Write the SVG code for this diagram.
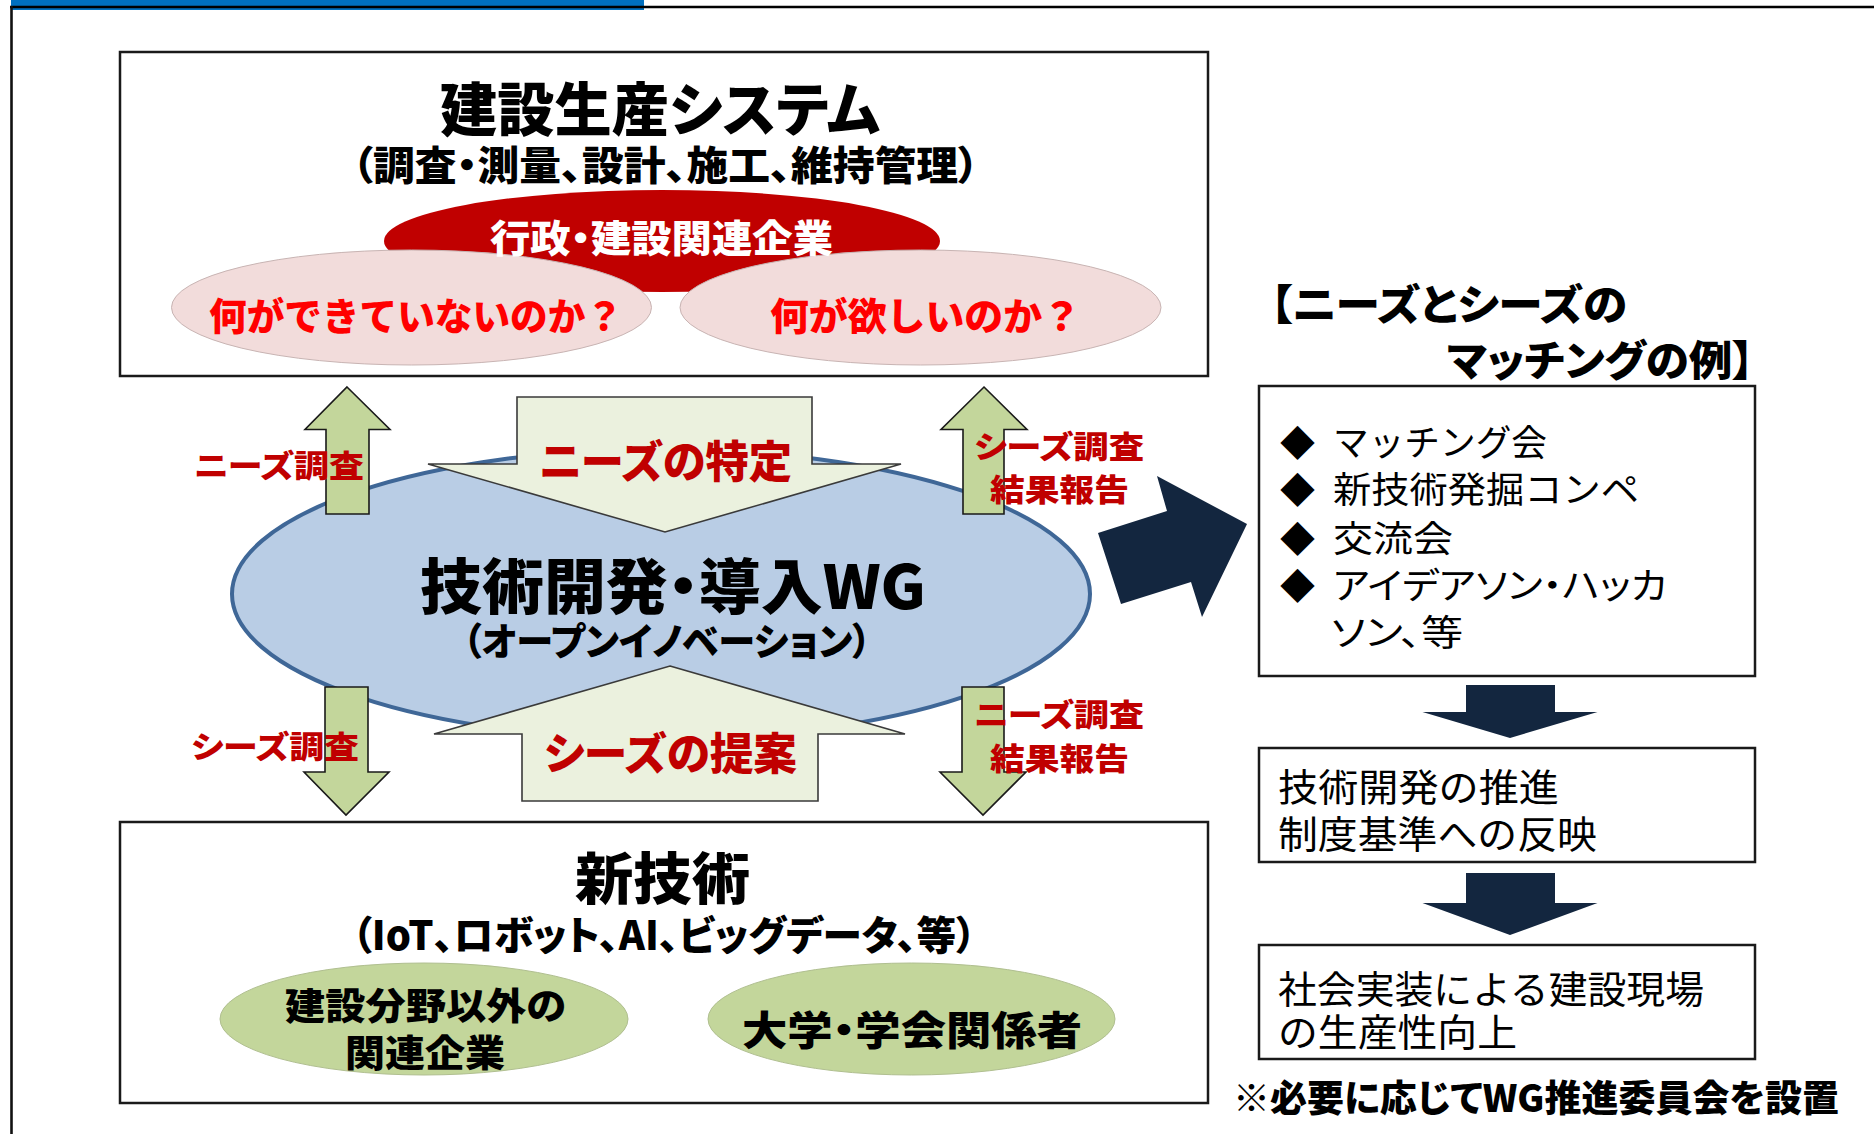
<svg xmlns="http://www.w3.org/2000/svg" width="1874" height="1134" viewBox="0 0 1874 1134">
<style>
text{font-family:"Noto Sans CJK JP","Noto Sans",sans-serif;}
.b{font-weight:900;fill:#000;font-feature-settings:"palt";}
.r{font-weight:400;fill:#000;}
.p{font-feature-settings:"palt";}
.red{font-weight:900;fill:#C00000;font-feature-settings:"palt";}
.rr{font-weight:900;fill:#FF0000;}
.wt{font-weight:900;fill:#fff;font-feature-settings:"palt";}
.box{fill:#fff;stroke:#1a1a1a;stroke-width:2.5;}
.gar{fill:#C3D69B;stroke:#1a1a1a;stroke-width:1.6;}
.bar{fill:#EBF1DE;stroke:#3a3a3a;stroke-width:1.6;}
.nav{fill:#13263F;}
</style>
<rect width="1874" height="1134" fill="#fff"/>
<g id="frame">
<rect x="11" y="0" width="633" height="10" fill="#0070C0"/>
<line x1="10" y1="7" x2="1874" y2="7" stroke="#000" stroke-width="2.6"/>
<line x1="11.5" y1="6" x2="11.5" y2="1134" stroke="#111" stroke-width="2.6"/>
</g>
<g id="top-box">
<rect class="box" x="120" y="52" width="1088" height="324"/>
<text class="b" x="440" y="131" font-size="58" textLength="440" lengthAdjust="spacingAndGlyphs">建設生産システム</text>
<text class="b" x="352" y="180" font-size="40" textLength="627" lengthAdjust="spacingAndGlyphs">（調査・測量、設計、施工、維持管理）</text>
<ellipse cx="662" cy="241" rx="278" ry="51" fill="#C00000"/>
<ellipse cx="411.5" cy="307.5" rx="240" ry="57.5" fill="#F2DCDB" stroke="#C8B4B3" stroke-width="1"/>
<ellipse cx="920.5" cy="307.5" rx="240.5" ry="57.5" fill="#F2DCDB" stroke="#C8B4B3" stroke-width="1"/>
<text class="wt" x="490" y="252" font-size="38" textLength="343" lengthAdjust="spacingAndGlyphs">行政・建設関連企業</text>
<text class="rr" x="209" y="330" font-size="38" textLength="414" lengthAdjust="spacingAndGlyphs">何ができていないのか？</text>
<text class="rr" x="770" y="330" font-size="38" textLength="311" lengthAdjust="spacingAndGlyphs">何が欲しいのか？</text>
</g>
<g id="wg">
<ellipse cx="661" cy="594" rx="429" ry="145" fill="#B9CDE5" stroke="#3F6797" stroke-width="4"/>
</g>
<g id="connectors">
<polygon class="bar" points="517,397 812,397 812,464 901,464 665,532 428,464 517,464"/>
<polygon class="bar" points="670,666 905,734 818,734 818,801 522,801 522,734 434,734"/>
<polygon class="gar" points="347,387 390,429.5 369,429.5 369,514 326,514 326,429.5 305,429.5"/>
<polygon class="gar" points="984,387 1027,429.5 1004,429.5 1004,514 963,514 963,429.5 941,429.5"/>
<polygon class="gar" points="325,687 368,687 368,772 389,772 346,815 304,772 325,772"/>
<polygon class="gar" points="962,687 1004,687 1004,772 1026,772 983,815 940,772 962,772"/>
<polygon class="nav" points="1098,533 1167,511 1157,476 1247,524 1202,617 1191,582 1121,604"/>
<polygon class="nav" points="1466,685 1555,685 1555,712 1597.5,712 1510,738 1422.5,712 1466,712"/>
<polygon class="nav" points="1466,873 1555,873 1555,903 1597.5,903 1510,935 1422.5,903 1466,903"/>
</g>
<g id="connector-labels">
<text class="red" x="539" y="478" font-size="44" textLength="253" lengthAdjust="spacingAndGlyphs">ニーズの特定</text>
<text class="red" x="544" y="770" font-size="44" textLength="253" lengthAdjust="spacingAndGlyphs">シーズの提案</text>
<text class="red" x="194" y="477" font-size="31" textLength="170" lengthAdjust="spacingAndGlyphs">ニーズ調査</text>
<text class="red" x="191" y="758" font-size="31" textLength="168" lengthAdjust="spacingAndGlyphs">シーズ調査</text>
<text class="red" x="974" y="458" font-size="31" textLength="170" lengthAdjust="spacingAndGlyphs">シーズ調査</text>
<text class="red" x="990" y="501" font-size="31" textLength="139" lengthAdjust="spacingAndGlyphs">結果報告</text>
<text class="red" x="974" y="726" font-size="31" textLength="170" lengthAdjust="spacingAndGlyphs">ニーズ調査</text>
<text class="red" x="990" y="770" font-size="31" textLength="139" lengthAdjust="spacingAndGlyphs">結果報告</text>
</g>
<g id="wg-text">
<text class="b" x="420" y="609" font-size="60" textLength="506" lengthAdjust="spacingAndGlyphs">技術開発・導入WG</text>
<text class="b" x="463" y="655" font-size="38" textLength="408" lengthAdjust="spacingAndGlyphs">（オープンイノベーション）</text>
</g>
<g id="bottom-box">
<rect class="box" x="120" y="822" width="1088" height="281"/>
<text class="b" x="575" y="899" font-size="56" textLength="175" lengthAdjust="spacingAndGlyphs">新技術</text>
<text class="b" x="352" y="950" font-size="40" textLength="624" lengthAdjust="spacingAndGlyphs">（IoT、ロボット、AI、ビッグデータ、等）</text>
<ellipse cx="424" cy="1019" rx="204" ry="56" fill="#C3D69B" stroke="#B0BF90" stroke-width="1"/>
<ellipse cx="911.5" cy="1019" rx="203.5" ry="56" fill="#C3D69B" stroke="#B0BF90" stroke-width="1"/>
<text class="b" x="285" y="1020" font-size="37" textLength="281" lengthAdjust="spacingAndGlyphs">建設分野以外の</text>
<text class="b" x="345" y="1067" font-size="37" textLength="160" lengthAdjust="spacingAndGlyphs">関連企業</text>
<text class="b" x="742" y="1045" font-size="40" textLength="340" lengthAdjust="spacingAndGlyphs">大学・学会関係者</text>
</g>
<g id="matching-heading">
<text class="b" x="1270" y="320" font-size="42" textLength="357" lengthAdjust="spacingAndGlyphs">【ニーズとシーズの</text>
<text class="b" x="1447" y="376" font-size="42" textLength="307" lengthAdjust="spacingAndGlyphs">マッチングの例】</text>
</g>
<g id="matching-box">
<rect class="box" x="1259" y="386" width="496" height="290" stroke-width="2"/>
<text class="r" x="1280" y="456" font-size="35">◆</text>
<text class="r" x="1280" y="503" font-size="35">◆</text>
<text class="r" x="1280" y="552" font-size="35">◆</text>
<text class="r" x="1280" y="599" font-size="35">◆</text>
<text class="r" x="1333" y="456" font-size="36" textLength="214" lengthAdjust="spacingAndGlyphs">マッチング会</text>
<text class="r" x="1333" y="503" font-size="36" textLength="306" lengthAdjust="spacingAndGlyphs">新技術発掘コンペ</text>
<text class="r" x="1333" y="552" font-size="36" textLength="120" lengthAdjust="spacingAndGlyphs">交流会</text>
<text class="r p" x="1333" y="599" font-size="36" textLength="334" lengthAdjust="spacingAndGlyphs">アイデアソン・ハッカ</text>
<text class="r p" x="1331" y="646" font-size="36" textLength="132" lengthAdjust="spacingAndGlyphs">ソン、等</text>
</g>
<g id="promotion-box">
<rect class="box" x="1259" y="748" width="496" height="114" stroke-width="2"/>
<text class="r" x="1278" y="801" font-size="38" textLength="281" lengthAdjust="spacingAndGlyphs">技術開発の推進</text>
<text class="r" x="1278" y="848" font-size="38" textLength="319" lengthAdjust="spacingAndGlyphs">制度基準への反映</text>
</g>
<g id="impl-box">
<rect class="box" x="1259" y="945" width="496" height="114" stroke-width="2"/>
<text class="r" x="1278" y="1003" font-size="38" textLength="426" lengthAdjust="spacingAndGlyphs">社会実装による建設現場</text>
<text class="r" x="1278" y="1046" font-size="38" textLength="239" lengthAdjust="spacingAndGlyphs">の生産性向上</text>
</g>
<g id="footnote">
<text class="b" x="1233" y="1112" font-size="37" textLength="606" lengthAdjust="spacingAndGlyphs">※必要に応じてWG推進委員会を設置</text>
</g>
</svg>
